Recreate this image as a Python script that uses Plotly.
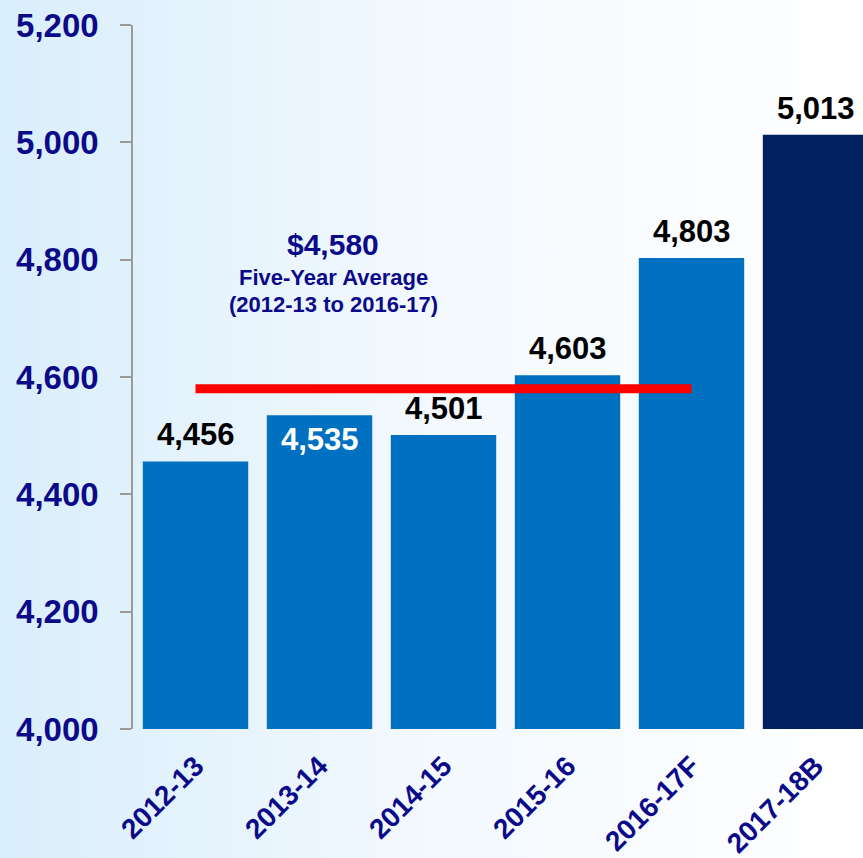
import plotly.graph_objs as go

# data
years = ["2012-13", "2013-14", "2014-15", "2015-16", "2016-17F", "2017-18B"]
spending = [4456, 4535, 4501, 4603, 4803, 5013]
bar_colors = ["#0070C0", "#0070C0", "#0070C0", "#0070C0", "#0070C0", "#002060"]
label_colors = ["black", "white", "black", "black", "black", "black"]
label_inside = [False, True, False, False, False, False]
five_year_avg = 4580
y_ticks = [4000, 4200, 4400, 4600, 4800, 5000, 5200]

navy = "#0b0b8a"
font_family = "Liberation Sans, Arial, sans-serif"

fig = go.Figure()

# soft blue-to-white page background (on its own full-page axes, drawn first)
fig.add_trace(go.Scatter(
    x=[0, 1, 1, 0, 0],
    y=[0, 0, 1, 1, 0],
    fill="toself",
    fillgradient=dict(
        type="horizontal",
        colorscale=[[0, "#d9eefb"], [0.5, "#f3f9fe"], [1, "#ffffff"]],
    ),
    line=dict(width=0),
    mode="lines",
    hoverinfo="skip",
    showlegend=False,
    xaxis="x",
    yaxis="y",
))

fig.add_trace(go.Bar(
    x=years,
    y=spending,
    marker=dict(color=bar_colors, line=dict(width=0)),
    width=0.85,
    showlegend=False,
    hoverinfo="skip",
    xaxis="x2",
    yaxis="y2",
))

# five-year average line from first to fifth year
fig.add_trace(go.Scatter(
    x=[years[0], years[4]],
    y=[five_year_avg, five_year_avg],
    mode="lines",
    line=dict(color="#FF0000", width=9),
    showlegend=False,
    hoverinfo="skip",
    xaxis="x2",
    yaxis="y2",
))

annotations = []
for yr, val, col, inside in zip(years, spending, label_colors, label_inside):
    annotations.append(dict(
        x=yr, y=val, xref="x2", yref="y2",
        text="{:,}".format(val),
        showarrow=False,
        xanchor="center",
        yanchor="top" if inside else "bottom",
        yshift=-5 if inside else 7,
        font=dict(family=font_family, size=31, color=col, weight="bold"),
    ))

annotations += [
    dict(x=0.386, y=1 - 245 / 858, xref="paper", yref="paper",
         xanchor="center", yanchor="middle",
         text="$" + "{:,}".format(five_year_avg), showarrow=False,
         font=dict(family=font_family, size=30, color=navy, weight="bold")),
    dict(x=0.386, y=1 - 277 / 858, xref="paper", yref="paper",
         xanchor="center", yanchor="middle",
         text="Five-Year Average", showarrow=False,
         font=dict(family=font_family, size=22, color=navy, weight="bold")),
    dict(x=0.386, y=1 - 304 / 858, xref="paper", yref="paper",
         xanchor="center", yanchor="middle",
         text="(2012-13 to 2016-17)", showarrow=False,
         font=dict(family=font_family, size=22, color=navy, weight="bold")),
]

fig.update_layout(
    width=863,
    height=858,
    margin=dict(l=0, r=0, t=0, b=0, pad=0),
    paper_bgcolor="white",
    plot_bgcolor="rgba(0,0,0,0)",
    hovermode=False,
    bargap=0.15,
    annotations=annotations,
    xaxis=dict(domain=[0, 1], range=[0, 1], visible=False, fixedrange=True,
               automargin=False),
    yaxis=dict(domain=[0, 1], range=[0, 1], visible=False, fixedrange=True,
               automargin=False),
    xaxis2=dict(
        domain=[133 / 863, 1],
        anchor="y2",
        range=[-0.504, 5.383],
        automargin=False,
        showline=False,
        showgrid=False,
        zeroline=False,
        ticks="",
        tickangle=-45,
        ticklabelstandoff=14,
        tickfont=dict(family=font_family, size=28, color=navy, weight="bold"),
    ),
    yaxis2=dict(
        domain=[1 - 729 / 858, 1 - 25 / 858],
        anchor="x2",
        range=[4000, 5200],
        automargin=False,
        tickvals=y_ticks,
        tickformat=",",
        showline=True,
        linecolor="#9a9a9a",
        linewidth=1.5,
        ticks="outside",
        ticklen=11,
        tickcolor="#9a9a9a",
        tickwidth=1.5,
        showgrid=False,
        zeroline=False,
        ticklabelstandoff=15,
        tickfont=dict(family=font_family, size=33, color=navy, weight="bold"),
    ),
)

# drop the browser's default body margin so the figure fills the window
fig.write_html("out.html", config={"displayModeBar": False},
               post_script="document.body.style.margin='0px';")
